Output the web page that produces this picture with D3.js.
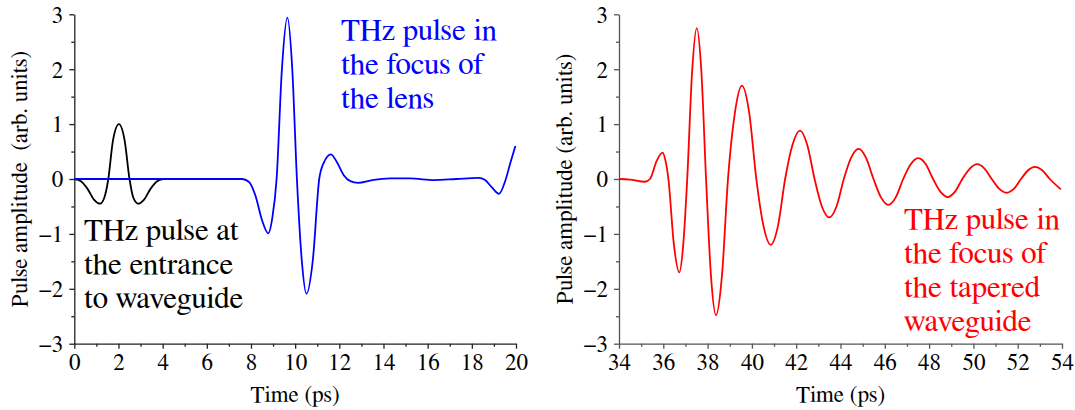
<!DOCTYPE html>
<html>
<head>
<meta charset="utf-8">
<script src="https://cdn.jsdelivr.net/npm/d3@7"></script>
<style>
  html, body { margin: 0; padding: 0; background: #fff; }
  svg { display: block; }
</style>
</head>
<body>
<svg id="fig" width="1075" height="410"></svg>
<script>
// ---------------- DATA ----------------
// Left panel: pulse at waveguide entrance (black)
const entranceTime = [0, 0.3, 0.6, 0.9, 1.16, 1.35, 1.54, 1.75, 2.02, 2.28, 2.5, 2.68, 2.9, 3.15, 3.45, 3.75, 4.03];
const entranceAmp  = [0, -0.04, -0.18, -0.38, -0.45, -0.35, 0, 0.7, 1.0, 0.7, 0, -0.35, -0.45, -0.38, -0.18, -0.04, 0];

// Left panel: pulse in the focus of the lens (blue)
const lensTime = [0, 7.6, 7.9, 8.2, 8.5, 8.78, 8.97, 9.16, 9.4, 9.65, 9.87, 10.08, 10.3, 10.51, 10.8, 11.09, 11.3, 11.62, 11.9, 12.2, 12.5, 12.85, 13.5, 14.3, 15.2, 16.3, 17.3, 18.3, 18.6, 18.9, 19.23, 19.5, 19.75, 19.97];
const lensAmp  = [0, 0, -0.05, -0.3, -0.75, -0.99, -0.7, 0, 2.0, 2.94, 2.0, 0, -1.48, -2.09, -1.48, 0, 0.3, 0.45, 0.3, 0.07, -0.04, -0.07, -0.02, 0.01, 0.01, -0.02, 0, 0.02, -0.02, -0.15, -0.27, -0.05, 0.3, 0.6];

// Right panel: pulse in the focus of the tapered waveguide (red)
const taperTime = [34, 34.5, 35.17, 35.4, 35.7, 35.97, 36.1, 36.23, 36.48, 36.72, 36.9, 37.08, 37.3, 37.51, 37.72, 37.93, 38.15, 38.38, 38.65, 38.92, 39.23, 39.55, 39.88, 40.2, 40.52, 40.85, 41.18, 41.5, 41.83, 42.17, 42.5, 42.83, 43.16, 43.49, 43.82, 44.15, 44.48, 44.82, 45.15, 45.49, 45.82, 46.16, 46.5, 46.83, 47.17, 47.51, 47.85, 48.18, 48.51, 48.84, 49.17, 49.5, 49.84, 50.18, 50.5, 50.83, 51.17, 51.5, 51.82, 52.15, 52.47, 52.78, 53.1, 53.45, 53.95];
const taperAmp  = [0, -0.01, -0.05, 0, 0.33, 0.48, 0.33, 0, -1.2, -1.70, -1.2, 0, 1.95, 2.75, 1.95, 0, -1.75, -2.48, -1.75, 0, 1.2, 1.70, 1.2, 0, -0.85, -1.20, -0.85, 0, 0.62, 0.88, 0.62, 0, -0.5, -0.70, -0.5, 0, 0.39, 0.55, 0.39, 0, -0.33, -0.47, -0.33, 0, 0.27, 0.38, 0.27, 0, -0.23, -0.33, -0.23, 0, 0.19, 0.27, 0.19, 0, -0.18, -0.25, -0.18, 0, 0.16, 0.22, 0.16, 0, -0.19];

// Ticks
const leftXTicks = [0, 2, 4, 6, 8, 10, 12, 14, 16, 18, 20];
const leftXMinor = [1, 3, 5, 7, 9, 11, 13, 15, 17, 19];
const rightXTicks = [34, 36, 38, 40, 42, 44, 46, 48, 50, 52, 54];
const rightXMinor = [35, 37, 39, 41, 43, 45, 47, 49, 51, 53];
const yTicks = [-3, -2, -1, 0, 1, 2, 3];
const yMinor = [-2.5, -1.5, -0.5, 0.5, 1.5, 2.5];

// Labels
const xTitle = "Time (ps)";
const yTitleLeft = "Pulse amplitude  (arb. units)";
const yTitleRight = "Pulse amplitude (arb. units)";
const labelEntrance = ["THz pulse at", "the entrance", "to waveguide"];
const labelLens = ["THz pulse in", "the focus of", "the lens"];
const labelTaper = ["THz pulse in", "the focus of", "the tapered", "waveguide"];

// ---------------- DRAW ----------------
const FAMILY = "FreeSerif";
const svg = d3.select("#fig");
const fmt = d => (d < 0 ? "\u2212" + Math.abs(d) : String(d));

function txt(sel, size) {
  return sel.attr("font-family", FAMILY).style("font-family", `"${FAMILY}"`)
    .attr("font-size", size);
}

function panel(opts) {
  const g = svg.append("g");
  const x = d3.scaleLinear().domain(opts.xDomain).range(opts.xRange);
  const y = d3.scaleLinear().domain([-3, 3]).range([343.7, 14.3]);

  // minor ticks
  g.append("g").attr("transform", `translate(0,${y(-3)})`)
    .call(d3.axisBottom(x).tickValues(opts.xMinor).tickSize(3).tickFormat(""))
    .call(s => s.select(".domain").remove());
  g.append("g").attr("transform", `translate(${x(opts.xDomain[0])},0)`)
    .call(d3.axisLeft(y).tickValues(yMinor).tickSize(3).tickFormat(""))
    .call(s => s.select(".domain").remove());

  // major
  g.append("g").attr("transform", `translate(0,${y(-3)})`)
    .call(d3.axisBottom(x).tickValues(opts.xTicks).tickSize(5).tickSizeOuter(0).tickPadding(5).tickFormat(fmt));
  const ya = g.append("g").attr("transform", `translate(${x(opts.xDomain[0])},0)`)
    .call(d3.axisLeft(y).tickValues(yTicks).tickSize(5).tickSizeOuter(0).tickPadding(6).tickFormat(fmt));
  g.selectAll("g").attr("font-family", FAMILY).attr("font-size", 23);

  g.selectAll(".tick line, .domain").attr("stroke", opts.axisColor).attr("stroke-width", 1.3);
  txt(g.selectAll(".tick text"), 23).attr("fill", "#000");
  ya.selectAll(".tick text").attr("dy", "0.34em");

  // titles
  txt(g.append("text"), 23).attr("x", (opts.xRange[0] + opts.xRange[1]) / 2).attr("y", 402)
    .attr("text-anchor", "middle").text(xTitle);
  txt(g.append("text"), 23).attr("transform", `translate(${opts.yTitleX},${(y(3) + y(-3)) / 2}) rotate(-90)`)
    .attr("text-anchor", "middle").style("white-space", "pre").text(opts.yTitle);

  // curves
  opts.series.forEach(s => {
    const pts = s.t.map((t, i) => [t, s.a[i]]);
    g.append("path").datum(pts)
      .attr("fill", "none").attr("stroke", s.color).attr("stroke-width", 1.8)
      .attr("d", d3.line().x(d => x(d[0])).y(d => y(d[1])).curve(d3.curveMonotoneX));
  });

  // annotations
  opts.notes.forEach(n => {
    n.lines.forEach((ln, i) => {
      txt(g.append("text"), 31).attr("fill", n.color).attr("x", n.x).attr("y", n.y + i * 34).text(ln);
    });
  });
}

panel({
  xDomain: [0, 20], xRange: [74.3, 516],
  xTicks: leftXTicks, xMinor: leftXMinor,
  axisColor: "#222", yTitle: yTitleLeft, yTitleX: 27,
  series: [
    { t: entranceTime, a: entranceAmp, color: "#000000" },
    { t: lensTime, a: lensAmp, color: "#0000ff" }
  ],
  notes: [
    { lines: labelLens, x: 341, y: 40, color: "#0000ff" },
    { lines: labelEntrance, x: 84, y: 240, color: "#000000" }
  ]
});

panel({
  xDomain: [34, 54], xRange: [619, 1062],
  xTicks: rightXTicks, xMinor: rightXMinor,
  axisColor: "#555", yTitle: yTitleRight, yTitleX: 572,
  series: [
    { t: taperTime, a: taperAmp, color: "#ff0000" }
  ],
  notes: [
    { lines: labelTaper, x: 904, y: 229, color: "#ff0000" }
  ]
});
</script>
</body>
</html>
